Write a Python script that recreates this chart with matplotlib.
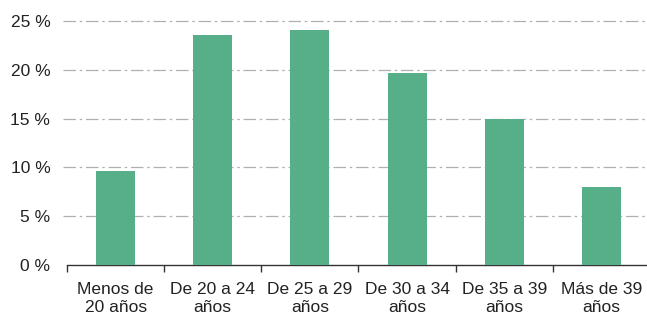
import matplotlib
matplotlib.use("Agg")
import matplotlib.pyplot as plt
import numpy as np

categories = ["Menos de\n20 años", "De 20 a 24\naños", "De 25 a 29\naños",
              "De 30 a 34\naños", "De 35 a 39\naños", "Más de 39\naños"]
values = [9.6, 23.6, 24.1, 19.7, 15.0, 8.0]
yticks = [0, 5, 10, 15, 20, 25]
ytick_labels = ["0 %", "5 %", "10 %", "15 %", "20 %", "25 %"]

plt.rcParams["font.family"] = ["Liberation Sans", "DejaVu Sans"]

fig = plt.figure(figsize=(6.47, 3.14), dpi=100)
ax = fig.add_axes([67/647, 1-265/314, 1-67/647 + 3/647, (265-21)/314])

x = np.arange(len(categories))
ax.bar(x, values, width=0.4, color="#57AF8A", zorder=3)
ax.set_xlim(-0.5, len(categories) - 0.5)
ax.set_ylim(0, 25)
ax.set_yticks(yticks)
ax.set_yticklabels(ytick_labels, fontsize=12.5, color="#222222")
ax.tick_params(axis="y", length=0, pad=12)
ax.set_xticks(x)
ax.set_xticklabels(categories, fontsize=12.5, color="#222222", linespacing=1.3)
ax.tick_params(axis="x", length=0, pad=12)
ax.set_xticks(np.arange(-0.5, len(categories), 1), minor=True)
ax.tick_params(axis="x", which="minor", length=5, direction="out", width=1, color="#333333")

for y in yticks[1:]:
    ax.axhline(y, xmin=-4/580, color="#B0B0B0", lw=0.9, ls=(0, (10, 3, 2, 3)),
               zorder=1, clip_on=False)

for s in ["left", "right", "top"]:
    ax.spines[s].set_visible(False)
ax.spines["bottom"].set_color("#333333")
ax.spines["bottom"].set_linewidth(1)

fig.savefig("out.png", dpi=100)
